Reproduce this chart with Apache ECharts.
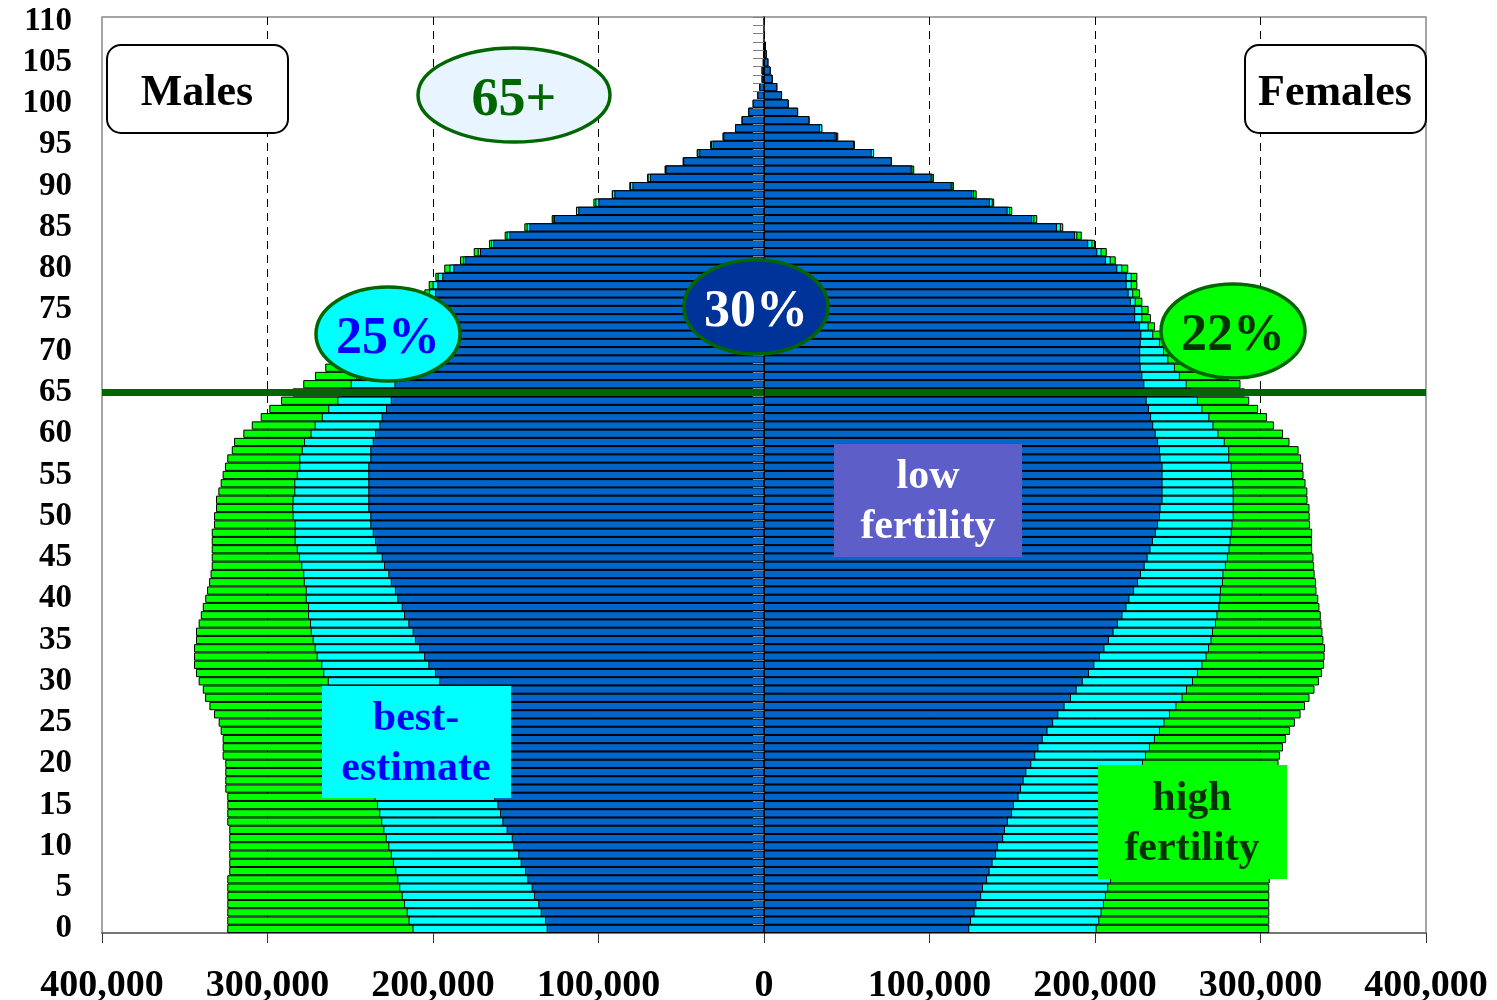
<!DOCTYPE html>
<html>
<head>
<meta charset="utf-8">
<title>Population pyramid - fertility scenarios</title>
<script src="https://cdn.jsdelivr.net/npm/echarts@6/dist/echarts.min.js"></script>
<style>
  html, body { margin: 0; padding: 0; background: #fff; }
  #chart { width: 1497px; height: 1000px; }
</style>
</head>
<body>
<div id="chart"></div>
<script>
// age categories 0..110 (bars only up to 107)
var ages = [];
for (var a = 0; a <= 110; a++) ages.push(String(a));

// males, persons per single year of age (drawn to the left)
var maleHigh = [
  324300, 324300, 324300, 324300, 324300, 324300, 324300,
  323100, 323100, 323100, 323100, 323100, 323100,
  324300, 324300, 324300, 324300,
  325500, 325500, 325500, 325500,
  327100, 327100, 327100,
  328300, 329500, 332300, 335100, 337700, 339100,
  341600, 343200, 344400, 344400, 344400, 343200, 343200, 341600, 340300, 339100,
  337600, 336500, 335300, 334400, 333700, 333700, 333700, 333700, 333700, 332300,
  332300, 331100, 331100, 329700, 328300, 327100, 325700, 324300, 321600, 320200,
  314600, 309500, 304100, 298900, 291800, 284800, 278400, 271300, 265100, 258000,
  250700, 243500, 236200, 229000, 222300, 216300, 210300, 205200, 202600, 198600,
  193200, 183700, 175400, 166200, 156700, 144800, 128300, 113600, 103100, 92000,
  81400, 70700, 60100, 49200, 40700, 32600, 25100, 17500, 13500, 9500,
  6800, 4000, 2800, 1400, 1400, 700, 500, 400
];
var maleBest = [
  212400, 214800, 215900, 217500, 218900, 220400, 221600, 222800, 224200, 225500,
  227000, 228600, 230000, 231300, 232500, 233800, 235300, 236600, 238400, 239900,
  241800, 243500, 245500, 247400, 249600, 251700, 253900, 256300, 258700, 261100,
  263600, 266300, 267500, 270300, 271500, 272700, 273900, 274300, 275500, 275500,
  276900, 276900, 278100, 278400, 279600, 281000, 282300, 283600, 283600, 283600,
  284800, 285000, 284800, 283800, 283800, 282300, 280800, 280800, 279300, 277900,
  274000, 271500, 267200, 263300, 257800, 255200, 249700, 246500, 242900, 238700,
  234400, 229600, 224800, 219900, 215100, 210300, 206000, 202400, 200200, 197200,
  190100, 181700, 173000, 164900, 155500, 143400, 127700, 113600, 101900, 91800,
  81000, 70300, 59800, 48900, 40200, 32000, 24800, 17500, 13500, 9500,
  6800, 4000, 2800, 1400, 1400, 700, 500, 400
];
var maleLow = [
  131300, 132300, 134900, 136400, 139000, 140400, 143000, 144400, 147000, 148500,
  151500, 152400, 155500, 158100, 159500, 161100, 163000, 165900, 167600, 170300,
  172100, 174900, 176600, 179500, 181300, 184200, 186200, 189300, 191200, 194100,
  196200, 198800, 202800, 205400, 208300, 210900, 212300, 214900, 217500, 218900,
  221600, 223000, 225500, 227000, 229600, 231000, 234000, 235000, 236400, 237900,
  237900, 239100, 239100, 239100, 239100, 239100, 239100, 237900, 237900, 236400,
  235000, 232400, 231000, 228400, 225500, 224800, 223300, 221100, 218700, 216600,
  214500, 212100, 209700, 207200, 204800, 202700, 200600, 198800, 197400, 194400,
  187700, 180500, 171600, 163600, 153900, 141800, 126900, 112200, 100100, 90400,
  79500, 68900, 59400, 48800, 39100, 31000, 24600, 17500, 13500, 9500,
  6800, 4000, 2800, 1400, 1400, 700, 500, 400
];

// females (drawn to the right)
var femaleHigh = [
  305300, 305300, 305300, 305300, 305300, 305300, 305600, 305700, 305700, 306000,
  306300, 306600, 306900, 307200, 307800, 308100, 308700, 309300, 309900, 310300,
  310900, 311800, 313600, 315400, 317800, 320800, 324200, 326900, 329600, 332600,
  335300, 337100, 338400, 338700, 339000, 338000, 337400, 336800, 336400, 335600,
  334900, 333800, 333500, 332700, 332300, 332000, 331200, 331200, 331200, 329900,
  329700, 329600, 328400, 328300, 327200, 326000, 325800, 324500, 323000, 317500,
  313600, 308100, 303900, 298500, 293200, 290600, 287900, 281100, 272000, 264200,
  257000, 248900, 241700, 236300, 233800, 232400, 228600, 227200, 225600, 225600,
  220100, 212500, 207100, 200000, 192000, 180800, 165100, 150000, 139100, 128500,
  114800, 102700, 90800, 77300, 66500, 55000, 44900, 35200, 27400, 20500,
  14900, 10900, 8000, 5200, 4000, 2600, 1600, 1200
];
var femaleBest = [
  201000, 202600, 204000, 205400, 206600, 208000, 209700, 210900, 212400, 213900,
  215100, 216600, 217800, 219000, 219900, 221100, 222600, 224200, 225700, 227200,
  229000, 230800, 233200, 236200, 239300, 242000, 245300, 249200, 252900, 255600,
  259200, 262200, 264900, 267400, 268900, 270400, 271300, 273100, 274000, 275200,
  275800, 276100, 277300, 277600, 279100, 280300, 281300, 281900, 282600, 283100,
  283800, 283800, 283800, 283800, 283600, 282800, 282600, 281100, 281100, 278400,
  274600, 271600, 269100, 264900, 262200, 258400, 255400, 251300, 248300, 244300,
  241700, 239300, 235200, 232400, 228600, 228600, 224600, 223100, 222200, 222200,
  216500, 209500, 204000, 198400, 189300, 179400, 163300, 148600, 138200, 126900,
  113900, 101800, 89700, 77300, 66500, 54700, 44100, 35200, 27500, 20700,
  15000, 10900, 8000, 5300, 4000, 2600, 1600, 1200
];
var femaleLow = [
  124000, 125100, 127200, 128300, 131200, 132300, 134800, 136300, 138100, 140200,
  141300, 144500, 145600, 147400, 149900, 151000, 153800, 155300, 156900, 158500,
  161500, 163900, 165800, 168400, 171300, 174700, 177800, 181600, 185500, 188900,
  192600, 196400, 199600, 203000, 205700, 208400, 211200, 213900, 216600, 219000,
  220800, 223600, 226000, 227800, 230000, 231800, 233500, 235000, 236800, 238100,
  239300, 239600, 240800, 240800, 240800, 240800, 240800, 239600, 239300, 238100,
  236700, 235200, 233900, 232600, 231200, 231000, 229800, 228600, 227600, 227300,
  227300, 227600, 228000, 227200, 224300, 224300, 221600, 220300, 219100, 219100,
  213500, 206600, 201400, 195900, 187900, 177000, 162100, 147200, 136500, 125900,
  113400, 101300, 89200, 77200, 65100, 54400, 43300, 33800, 27400, 20500,
  14900, 10900, 8000, 5200, 4000, 2600, 1600, 1200
];

var retireAge = '65';

var serif = '"Liberation Serif", "Times New Roman", serif';

function fmt(v) {
  return String(Math.abs(v)).replace(/\B(?=(\d{3})+(?!\d))/g, ',');
}

function barSeries(name, values, color, sign) {
  return {
    name: name,
    type: 'bar',
    yAxisIndex: 0,
    barGap: '-100%',
    barCategoryGap: '0%',
    silent: true,
    itemStyle: { color: color, borderColor: '#000', borderWidth: 1 },
    data: values.map(function (v) { return sign * v; })
  };
}

var series = [
  barSeries('males high', maleHigh, '#00ff00', -1),
  barSeries('males best', maleBest, '#00ffff', -1),
  barSeries('males low', maleLow, '#0066cc', -1),
  barSeries('females high', femaleHigh, '#00ff00', 1),
  barSeries('females best', femaleBest, '#00ffff', 1),
  barSeries('females low', femaleLow, '#0066cc', 1)
];
// thick line at age 65
series[5].markLine = {
  silent: true,
  symbol: 'none',
  label: { show: false },
  lineStyle: { color: '#006600', width: 7, type: 'solid' },
  data: [{ yAxis: retireAge }]
};

// annotation shapes and their texts
function label(x, y, text, color, size) {
  return {
    type: 'text', z: 110,
    style: {
      text: text, x: x, y: y, fill: color,
      font: 'bold ' + size + 'px ' + serif,
      textAlign: 'center', textVerticalAlign: 'middle',
      align: 'center', verticalAlign: 'middle',
      lineHeight: 50
    }
  };
}
function ellipse(cx, cy, rx, fill) {
  return {
    type: 'ellipse', z: 100,
    shape: { cx: cx, cy: cy, rx: rx, ry: 47 },
    style: { fill: fill, stroke: '#006600', lineWidth: 3.5 }
  };
}
function box(x, y, w, h, fill) {
  return {
    type: 'rect', z: 100,
    shape: { x: x, y: y, width: w, height: h },
    style: { fill: fill }
  };
}
function sexBox(x) {
  return {
    type: 'rect', z: 100,
    shape: { x: x, y: 45, width: 181, height: 88, r: 14 },
    style: { fill: '#fff', stroke: '#000', lineWidth: 2 }
  };
}

var graphics = [
  sexBox(107), label(197, 94, 'Males', '#000', 44),
  sexBox(1245), label(1335, 94, 'Females', '#000', 44),
  ellipse(514, 95, 96, '#e8f4ff'), label(514, 101, '65+', '#006600', 54),
  ellipse(388, 334, 72, '#00ffff'), label(388, 340, '25%', '#0000ff', 52),
  ellipse(756, 307, 72, '#003399'), label(756, 313, '30%', '#ffffff', 52),
  ellipse(1233, 331, 72, '#00ff00'), label(1233, 337, '22%', '#003300', 52),
  box(834, 444, 188, 113, '#5e5ec8'), label(928, 502, 'low\nfertility', '#ffffff', 42),
  box(322, 686, 189, 112, '#00ffff'), label(416, 744, 'best-\nestimate', '#0000ff', 42),
  box(1098, 765, 189, 114, '#00ff00'), label(1192, 824, 'high\nfertility', '#003300', 42)
];

var chart = echarts.init(document.getElementById('chart'));
chart.setOption({
  animation: false,
  backgroundColor: '#fff',
  grid: {
    left: 102, right: 71, top: 17, bottom: 67,
    outerBoundsMode: 'none',
    show: true, borderColor: '#888', borderWidth: 1.5, backgroundColor: 'transparent'
  },
  xAxis: {
    type: 'value',
    min: -400000, max: 400000, interval: 100000,
    axisLine: { show: true, onZero: false, lineStyle: { color: '#666', width: 1.5 } },
    axisTick: { show: true, length: 10, lineStyle: { color: '#333' } },
    axisLabel: {
      formatter: fmt, margin: 34,
      color: '#000', fontSize: 38, fontWeight: 'bold', fontFamily: serif
    },
    splitLine: {
      show: true, showMinLine: false, showMaxLine: false,
      lineStyle: { color: '#000', width: 1, type: [8, 6] }
    }
  },
  yAxis: [
    {
      type: 'category',
      data: ages,
      axisLine: { show: false, onZero: false },
      axisTick: { show: false },
      axisLabel: {
        interval: 4, margin: 30, padding: [8, 0, 0, 0],
        color: '#000', fontSize: 33, fontWeight: 'bold', fontFamily: serif
      },
      splitLine: { show: false }
    },
    {
      // centre axis with a tick per year of age
      type: 'category',
      data: ages,
      position: 'left',
      z: 10,
      axisLine: { show: true, onZero: true, lineStyle: { color: '#000', width: 1.5 } },
      axisTick: { show: true, interval: 0, length: 11, lineStyle: { color: '#808080' } },
      axisLabel: { show: false },
      splitLine: { show: false }
    }
  ],
  series: series,
  graphic: graphics
});
</script>
</body>
</html>
